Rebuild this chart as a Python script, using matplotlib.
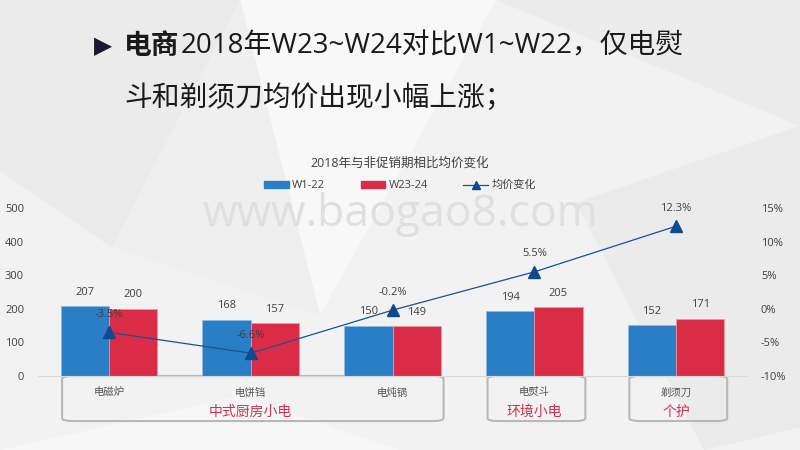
import matplotlib.pyplot as plt
from matplotlib.patches import Polygon, FancyBboxPatch
from matplotlib.lines import Line2D
from matplotlib.patches import Patch
import matplotlib.transforms as mtransforms

plt.rcParams['font.family'] = ['Open Sans', 'Noto Sans CJK SC', 'DejaVu Sans']

categories = ['电磁炉', '电饼铛', '电炖锅', '电熨斗', '剃须刀']
w1_22 = [207, 168, 150, 194, 152]
w23_24 = [200, 157, 149, 205, 171]
change = [-3.5, -6.6, -0.2, 5.5, 12.3]
groups = [('中式厨房小电', 0, 2), ('环境小电', 3, 3), ('个护', 4, 4)]
left_ticks = [0, 100, 200, 300, 400, 500]
right_ticks = [-10, -5, 0, 5, 10, 15]

blue = '#2A7EC6'
red = '#DA2C46'
navy = '#1F4F8F'

fig = plt.figure(figsize=(8, 4.5), dpi=100)
fig.patch.set_facecolor('#f2f2f2')

# background decoration
bgax = fig.add_axes([0, 0, 1, 1], zorder=-10)
bgax.set_xlim(0, 1)
bgax.set_ylim(0, 1)
bgax.axis('off')
bg = [
    ([(0, 1), (0.30, 1), (0.14, 0.45), (0, 0.62)], '#ebebeb'),
    ([(0.30, 1), (0.62, 1), (0.40, 0.30)], '#f8f8f8'),
    ([(0.14, 0.45), (0.40, 0.30), (0.30, 1)], '#efefef'),
    ([(0.62, 1), (1, 1), (1, 0.72)], '#ececec'),
    ([(0.72, 0.55), (1, 0.72), (1, 0.05), (0.88, 0.0)], '#ebebeb'),
    ([(0, 0), (0.5, 0), (0.3, 0.12)], '#f7f7f7'),
]
for pts, c in bg:
    bgax.add_patch(Polygon(pts, closed=True, facecolor=c, edgecolor='none'))

# headline
fig.text(0.118, 0.897, '▶', fontsize=17, color='#1a1a2e', va='center', ha='left',
         family=['DejaVu Sans'])
t1 = fig.text(0.155, 0.897, '电商', fontsize=20, fontweight='bold', color='#1a1a1a',
              va='center', ha='left', family=['Noto Sans CJK SC'])
fig.canvas.draw()
bb = t1.get_window_extent()
x2 = bb.x1 / fig.bbox.width
fig.text(x2 + 0.002, 0.897, '2018年W23~W24对比W1~W22，仅电熨', fontsize=20,
         color='#1a1a1a', va='center', ha='left')
fig.text(0.155, 0.781, '斗和剃须刀均价出现小幅上涨；', fontsize=20,
         color='#1a1a1a', va='center', ha='left')

fig.text(0.5, 0.638, '2018年与非促销期相比均价变化', fontsize=9, color='#404040',
         ha='center', va='center')

# watermark
fig.text(0.5, 0.524, 'www.baogao8.com', fontsize=32, color='#dfdfdf',
         ha='center', va='center', family=['Open Sans', 'DejaVu Sans'], zorder=0)

ax = fig.add_axes([0.0475, 0.1644, 0.8863, 0.3733])
ax.set_facecolor('none')
x = list(range(len(categories)))
bw = 0.34
b1 = ax.bar([i - bw / 2 for i in x], w1_22, bw, color=blue, edgecolor='#8fbbe3',
            linewidth=0.5, zorder=2)
b2 = ax.bar([i + bw / 2 for i in x], w23_24, bw, color=red, edgecolor='#ec9aa6',
            linewidth=0.5, zorder=2)
for rects in (b1, b2):
    for r in rects:
        ax.annotate(f'{int(r.get_height())}', (r.get_x() + r.get_width() / 2, r.get_height()),
                    xytext=(0, 6), textcoords='offset points', ha='center', va='bottom',
                    fontsize=8, color='#404040')

ax.set_xlim(-0.5, 4.5)
ax.set_ylim(0, 500)
ax.set_yticks(left_ticks)
ax.set_xticks([])
ax.tick_params(axis='y', length=0, pad=10, labelsize=8, labelcolor='#404040')
for s in ['top', 'left', 'right']:
    ax.spines[s].set_visible(False)
ax.spines['bottom'].set_color('#d9d9d9')

ax2 = ax.twinx()
ax2.set_ylim(-10, 15)
ax2.set_yticks(right_ticks)
ax2.set_yticklabels([f'{v}%' for v in right_ticks])
ax2.tick_params(axis='y', length=0, pad=10, labelsize=8, labelcolor='#404040')
for s in ax2.spines.values():
    s.set_visible(False)
ax2.plot(x, change, color=navy, linewidth=0.9, marker='^', markersize=9,
         markerfacecolor='#0E4A8E', markeredgecolor='#0E4A8E', zorder=3)
for i, v in zip(x, change):
    ax2.annotate(f'{v}%', (i, v), xytext=(0, 9), textcoords='offset points',
                 ha='center', va='bottom', fontsize=8, color='#404040')

# category boxes
trans = mtransforms.blended_transform_factory(ax.transData, ax.transAxes)
for name, a, b in groups:
    box = FancyBboxPatch((a - 0.33, -0.268), (b - a) + 0.69, 0.268,
                         boxstyle='round,pad=0,rounding_size=0.07',
                         transform=trans, facecolor='none', edgecolor='#b8b8b8',
                         linewidth=1.5, clip_on=False, mutation_aspect=0.25)
    ax.add_patch(box)
    ax.text((a + b) / 2, -0.214, name, transform=trans, ha='center', va='center',
            fontsize=10, color='#D0304F')
for i, c in enumerate(categories):
    ax.text(i, -0.101, c, transform=trans, ha='center', va='center',
            fontsize=7.5, color='#555555')

handles = [Patch(color=blue), Patch(color=red),
           Line2D([], [], color=navy, linewidth=0.9, marker='^', markersize=6,
                  markerfacecolor='#0E4A8E', markeredgecolor='#0E4A8E')]
fig.legend(handles, ['W1-22', 'W23-24', '均价变化'], loc='center', ncol=3,
           bbox_to_anchor=(0.5, 0.587), frameon=False, fontsize=8,
           handlelength=2.2, handleheight=0.6, columnspacing=3.2, handletextpad=0.3,
           labelcolor='#404040')

fig.savefig('out.png', dpi=100, facecolor=fig.get_facecolor())
